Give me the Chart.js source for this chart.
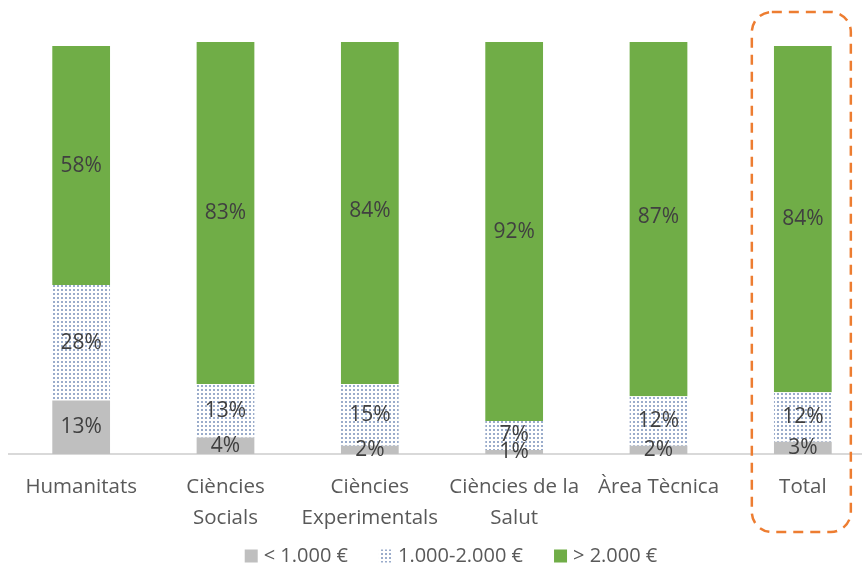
<!DOCTYPE html>
<html>
<head>
<meta charset="utf-8">
<script src="https://cdn.jsdelivr.net/npm/chart.js@4.4.1/dist/chart.umd.min.js"></script>
<style>
    html, body { margin: 0; padding: 0; background: #fff; overflow: hidden; }
    #wrap { width: 902px; height: 570px; }
</style>
</head>
<body>
<div id="wrap"><canvas id="salaryChart" width="902" height="570"></canvas></div>
<script>
// share of graduates per salary band, by area (%)
const categories = [
    "Humanitats",
    ["Ciències", "Socials"],
    ["Ciències", "Experimentals"],
    ["Ciències de la", "Salut"],
    "Àrea Tècnica",
    "Total",
];
const seriesNames = ["< 1.000 €", "1.000-2.000 €", "> 2.000 €"];
const lowBand = [13, 4, 2, 1, 2, 3];
const midBand = [28, 13, 15, 7, 12, 12];
const highBand = [58, 83, 84, 92, 87, 84];
const highlightCategory = "Total";

const FONT = "'Open Sans', sans-serif";

function dotPattern(ctx) {
    const tile = document.createElement("canvas");
    tile.width = 4;
    tile.height = 4;
    const t = tile.getContext("2d");
    t.fillStyle = "#ffffff";
    t.fillRect(0, 0, 4, 4);
    t.fillStyle = "#9aaccb";
    t.fillRect(1, 1, 2, 2);
    return ctx.createPattern(tile, "repeat");
}

// value labels centred in each stacked segment
const segmentLabels = {
    id: "segmentLabels",
    afterDatasetsDraw(chart) {
        const ctx = chart.ctx;
        ctx.save();
        ctx.font = `21px ${FONT}`;
        ctx.fillStyle = "#404040";
        ctx.textAlign = "center";
        ctx.textBaseline = "middle";
        chart.data.datasets.forEach((ds, i) => {
            chart.getDatasetMeta(i).data.forEach((bar, j) => {
                ctx.fillText(ds.data[j] + "%", bar.x, (bar.y + bar.base) / 2);
            });
        });
        ctx.restore();
    },
};

// dashed rounded frame around the Total column
const totalFrame = {
    id: "totalFrame",
    afterDraw(chart) {
        const xScale = chart.scales.x;
        const idx = chart.data.labels.indexOf(highlightCategory);
        const cx = xScale.getPixelForValue(idx);
        const left = cx - 51, right = cx + 48;
        const top = 12, bottom = 532;
        const ctx = chart.ctx;
        ctx.save();
        ctx.strokeStyle = "#ed7d31";
        ctx.lineWidth = 2.5;
        ctx.setLineDash([10, 7]);
        ctx.beginPath();
        ctx.roundRect(left, top, right - left, bottom - top, 20);
        ctx.stroke();
        ctx.restore();
    },
};

// legend row under the axis labels
const legendRow = {
    id: "legendRow",
    afterDraw(chart) {
        const ctx = chart.ctx;
        ctx.save();
        ctx.font = `20px ${FONT}`;
        const box = 13, gap = 6, spacing = 31, y = 556;
        const widths = seriesNames.map((n) => box + gap + ctx.measureText(n).width);
        const total = widths.reduce((a, b) => a + b, 0) + spacing * (widths.length - 1);
        let x = chart.width / 2 - total / 2;
        chart.data.datasets.forEach((ds, i) => {
            ctx.fillStyle = ds.backgroundColor;
            ctx.fillRect(x, y - box / 2, box, box);
            ctx.fillStyle = "#595959";
            ctx.textAlign = "left";
            ctx.textBaseline = "middle";
            ctx.fillText(seriesNames[i], x + box + gap, y);
            x += widths[i] + spacing;
        });
        ctx.restore();
    },
};

const canvas = document.getElementById("salaryChart");
const ctx = canvas.getContext("2d");

new Chart(ctx, {
    type: "bar",
    data: {
        labels: categories,
        datasets: [
            { label: seriesNames[0], data: lowBand, backgroundColor: "#bfbfbf" },
            { label: seriesNames[1], data: midBand, backgroundColor: dotPattern(ctx) },
            { label: seriesNames[2], data: highBand, backgroundColor: "#70ad47" },
        ],
    },
    options: {
        responsive: false,
        animation: false,
        datasets: {
            bar: { categoryPercentage: 1, barPercentage: 0.4, borderWidth: 0 },
        },
        layout: { padding: { left: 9, right: 27, top: 42, bottom: 0 } },
        plugins: {
            legend: { display: false },
            tooltip: { enabled: false },
        },
        scales: {
            x: {
                stacked: true,
                grid: { drawOnChartArea: false, drawTicks: false, color: "transparent" },
                border: { color: "#d9d9d9", width: 2 },
                ticks: {
                    color: "#595959",
                    font: { family: FONT, size: 20.5, lineHeight: 1.5 },
                    padding: 18,
                    maxRotation: 0,
                    autoSkip: false,
                },
                afterFit(scale) {
                    scale.height = 116;
                },
            },
            y: { stacked: true, display: false, min: 0, max: 100 },
        },
    },
    plugins: [segmentLabels, totalFrame, legendRow],
});
</script>
</body>
</html>
